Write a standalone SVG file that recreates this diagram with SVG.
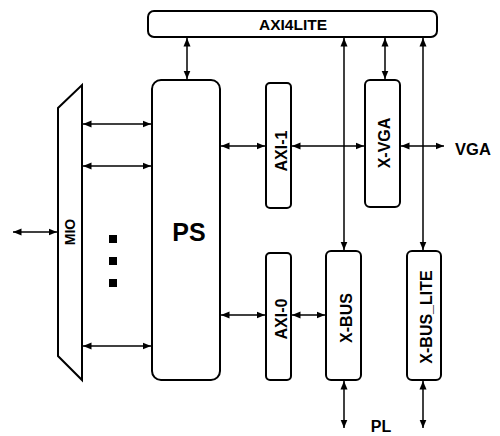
<svg xmlns="http://www.w3.org/2000/svg" width="500" height="436" viewBox="0 0 500 436">
<defs>
<marker id="ah" markerUnits="userSpaceOnUse" markerWidth="9" markerHeight="8" refX="8.5" refY="4" orient="auto-start-reverse">
<path d="M0,0.5 L8.5,4 L0,7.5 z" fill="#000"/>
</marker>
<style>
.box{fill:#fff;stroke:#000;stroke-width:2}
.lbl{font-family:"Liberation Sans",Arial,sans-serif;font-weight:bold;fill:#000;text-anchor:middle}
.c{fill:none;stroke:#000;stroke-width:1.5;marker-start:url(#ah);marker-end:url(#ah)}
</style>
</defs>
<rect width="500" height="436" fill="#fff"/>
<g id="axi4lite">
<rect class="box" x="148" y="11" width="289" height="26" rx="6"/>
<text class="lbl" x="293" y="30" font-size="15.5">AXI4LITE</text>
</g>
<g id="mio">
<path class="box" d="M82,85 L82,380 L58,356 L58,108 Z"/>
<text class="lbl" font-size="14" transform="translate(75,232) rotate(-90)">MIO</text>
</g>
<g id="dots">
<rect x="109" y="235" width="8" height="8" fill="#000"/>
<rect x="109" y="257" width="8" height="8" fill="#000"/>
<rect x="109" y="279" width="8" height="8" fill="#000"/>
</g>
<g id="ps">
<rect class="box" x="152" y="80" width="68" height="300" rx="9"/>
<text class="lbl" x="189" y="241" font-size="25">PS</text>
</g>
<g id="axi1">
<rect class="box" x="266" y="83" width="25" height="125" rx="4"/>
<text class="lbl" font-size="16" transform="translate(287,151) rotate(-90)">AXI-1</text>
</g>
<g id="xvga">
<rect class="box" x="365" y="80" width="35" height="127" rx="5"/>
<text class="lbl" font-size="16" transform="translate(390,143) rotate(-90)">X-VGA</text>
</g>
<g id="axi0">
<rect class="box" x="266" y="253" width="25" height="127" rx="4"/>
<text class="lbl" font-size="16" transform="translate(287,319) rotate(-90)">AXI-0</text>
</g>
<g id="xbus">
<rect class="box" x="326" y="251" width="35" height="129" rx="5"/>
<text class="lbl" font-size="16" transform="translate(352,318) rotate(-90)">X-BUS</text>
</g>
<g id="xbuslite">
<rect class="box" x="407" y="251" width="34" height="129" rx="5"/>
<text class="lbl" font-size="16" transform="translate(432,317) rotate(-90)">X-BUS_LITE</text>
</g>
<g id="vga">
<text class="lbl" x="473" y="155" font-size="16.5">VGA</text>
</g>
<g id="pl">
<text class="lbl" x="381" y="432" font-size="16">PL</text>
</g>
<g id="connectors">
<line class="c" x1="187" y1="38" x2="187" y2="79"/>
<line class="c" x1="83" y1="124" x2="151" y2="124"/>
<line class="c" x1="83" y1="166" x2="151" y2="166"/>
<line class="c" x1="83" y1="346" x2="151" y2="346"/>
<line class="c" x1="13" y1="232" x2="57" y2="232"/>
<line class="c" x1="221" y1="146" x2="265" y2="146"/>
<line class="c" x1="292" y1="146" x2="364" y2="146"/>
<line class="c" x1="401" y1="146" x2="444" y2="146"/>
<line class="c" x1="385" y1="38" x2="385" y2="79"/>
<line class="c" x1="344" y1="38" x2="344" y2="250"/>
<line class="c" x1="423" y1="38" x2="423" y2="250"/>
<line class="c" x1="221" y1="315" x2="265" y2="315"/>
<line class="c" x1="292" y1="315" x2="325" y2="315"/>
<line class="c" x1="344" y1="381" x2="344" y2="428"/>
<line class="c" x1="423" y1="381" x2="423" y2="428"/>
</g>
</svg>
